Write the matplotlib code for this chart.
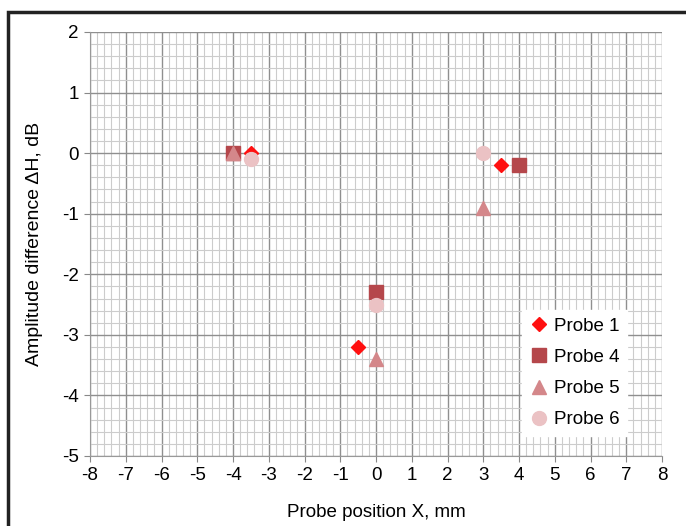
import numpy as np
import matplotlib.pyplot as plt
from matplotlib.patches import Rectangle
from matplotlib.ticker import MultipleLocator

plt.rcParams['font.family'] = ['Liberation Sans', 'DejaVu Sans']
plt.rcParams['axes.unicode_minus'] = False

labels = ['Probe 1', 'Probe 4', 'Probe 5', 'Probe 6']
x_p1 = [-3.5, -0.5, 3.5]
y_p1 = [0.0, -3.2, -0.2]
x_p4 = [-4.0, 0.0, 4.0]
y_p4 = [0.0, -2.3, -0.2]
x_p5 = [-4.0, 0.0, 3.0]
y_p5 = [0.0, -3.4, -0.9]
x_p6 = [-3.5, 0.0, 3.0]
y_p6 = [-0.1, -2.5, 0.0]

fig = plt.figure(figsize=(6.86, 5.26), dpi=100)
ax = fig.add_axes([90/686, 1-456/526, 572/686, 424/526])

ax.plot(x_p1, y_p1, 'D', color='#ff1010', ms=7.5, ls='none', label=labels[0])
ax.plot(x_p4, y_p4, 's', color='#b5474b', ms=9.5, ls='none', label=labels[1])
ax.plot(x_p5, y_p5, '^', color='#d4878a', ms=9.5, ls='none', label=labels[2])
ax.plot(x_p6, y_p6, 'o', color='#ebc2c4', ms=10, ls='none', label=labels[3])

ax.set_xlim(-8, 8)
ax.set_ylim(-5, 2)
ax.xaxis.set_major_locator(MultipleLocator(1))
ax.yaxis.set_major_locator(MultipleLocator(1))
ax.xaxis.set_minor_locator(MultipleLocator(0.2))
ax.yaxis.set_minor_locator(MultipleLocator(0.2))
ax.grid(which='major', color='#8f8f8f', lw=1.0)
ax.grid(which='minor', color='#cccccc', lw=0.8)
ax.set_axisbelow(True)
ax.tick_params(which='major', length=4, color='#888888', labelsize=13.5, pad=4)
ax.tick_params(which='minor', length=0)
for s in ['top', 'right']:
    ax.spines[s].set_visible(False)
for s in ['left', 'bottom']:
    ax.spines[s].set_color('#999999')

ax.set_xlabel('Probe position X, mm', fontsize=13.5, labelpad=14)
ax.set_ylabel('Amplitude difference ΔH, dB', fontsize=14, labelpad=14)

leg = ax.legend(loc='lower right', fontsize=13.5, frameon=True, fancybox=False,
                edgecolor='white', framealpha=1, borderaxespad=0.8,
                handletextpad=0.3, labelspacing=0.75, handlelength=1.0,
                bbox_to_anchor=(0.965, 0.012))

fig.patches.append(Rectangle((8/686, -0.1), 1.2, 1-12/526+0.1, transform=fig.transFigure,
                             fill=False, edgecolor='#222222', lw=2.5))

fig.savefig('out.png', dpi=100)
